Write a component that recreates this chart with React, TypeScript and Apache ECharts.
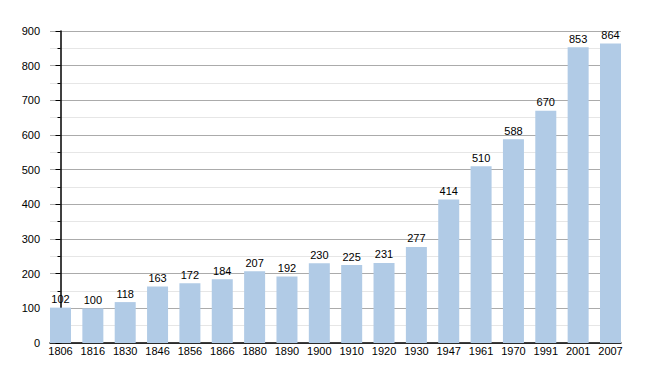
import React, { useEffect, useRef } from "react";
import * as echarts from "echarts";

const years = ["1806", "1816", "1830", "1846", "1856", "1866", "1880", "1890", "1900", "1910", "1920", "1930", "1947", "1961", "1970", "1991", "2001", "2007"];
const population = [102, 100, 118, 163, 172, 184, 207, 192, 230, 225, 231, 277, 414, 510, 588, 670, 853, 864];
const yTicks = [0, 100, 200, 300, 400, 500, 600, 700, 800, 900];

const FONT = "'Liberation Sans', Arial, sans-serif";

export default function App() {
  const ref = useRef<HTMLDivElement>(null);
  useEffect(() => {
    if (!ref.current) return;
    const chart = echarts.init(ref.current, undefined, { renderer: "svg" });
    const half = 0.3246;
    chart.setOption({
      animation: false,
      backgroundColor: "#ffffff",
      grid: { left: 50, right: 29, top: 31, bottom: 30, containLabel: false },
      xAxis: {
        type: "value",
        min: -half,
        max: years.length - 1 + half,
        axisLine: { show: true, onZero: false, lineStyle: { color: "#000", width: 1.5 } },
        axisTick: { show: false },
        splitLine: { show: false },
        axisLabel: {
          customValues: years.map((_, i) => i),
          formatter: (v: number) => years[Math.round(v)],
          color: "#000",
          fontSize: 11,
          fontFamily: FONT,
          margin: 2,
        },
      },
      yAxis: {
        type: "value",
        min: yTicks[0],
        max: yTicks[yTicks.length - 1],
        interval: 100,
        axisLine: { show: true, lineStyle: { color: "#000", width: 1.5 } },
        axisTick: { show: true, length: 5, lineStyle: { color: "#000" } },
        minorTick: { show: true, splitNumber: 2, length: 3, lineStyle: { color: "#000" } },
        splitLine: { show: true, lineStyle: { color: "#ababab", width: 1 } },
        minorSplitLine: { show: true, lineStyle: { color: "#e6e6e6", width: 1 } },
        axisLabel: { color: "#000", fontSize: 11, fontFamily: FONT, margin: 10 },
      },
      series: [
        {
          type: "bar",
          barWidth: 21,
          data: population.map((v, i) => [i, v]),
          itemStyle: { color: "#b1cbe6" },
          label: {
            show: true,
            position: "top",
            distance: 3,
            color: "#000",
            fontSize: 11,
            fontFamily: FONT,
            formatter: (p: any) => String(p.value[1]),
          },
        },
      ],
    });
    return () => chart.dispose();
  }, []);
  return <div ref={ref} style={{ position: "fixed", left: 0, top: 0, width: 650, height: 373 }} />;
}
